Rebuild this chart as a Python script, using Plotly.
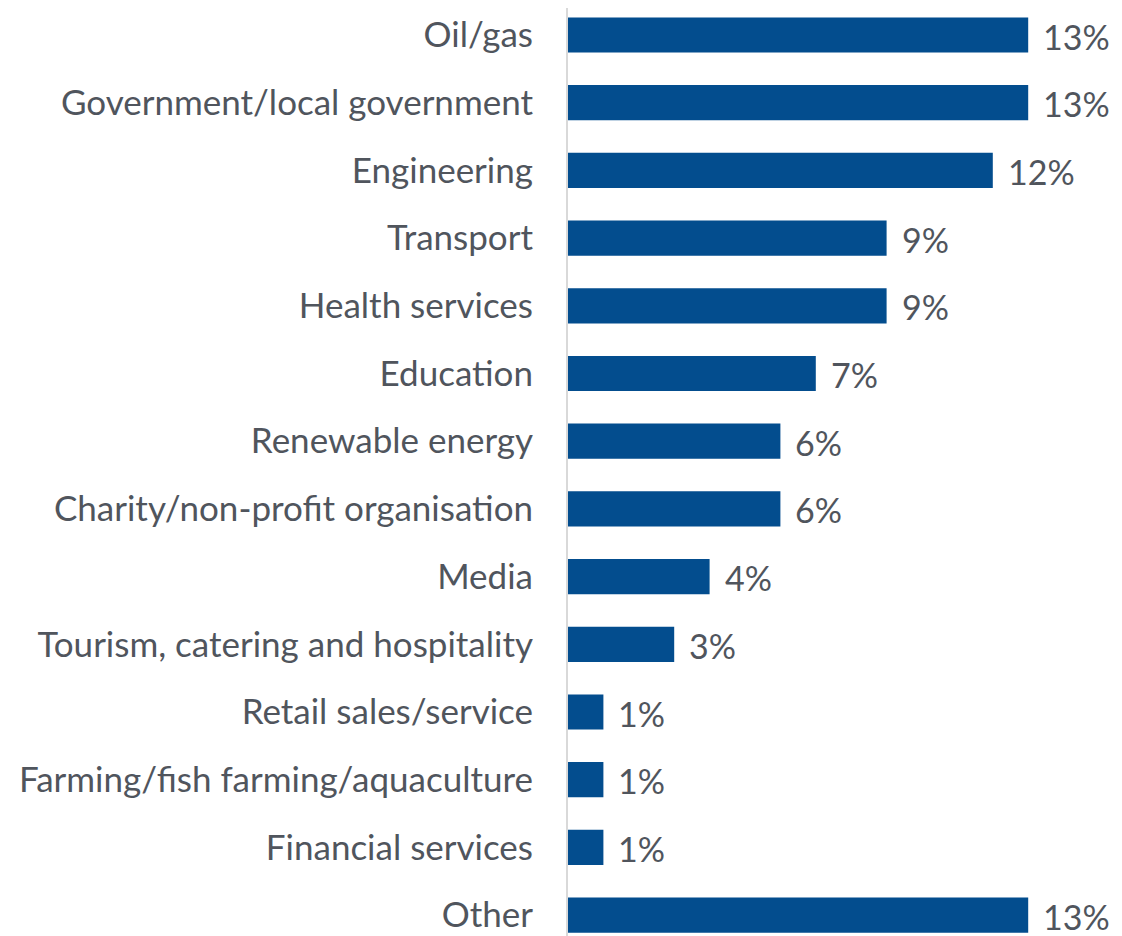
import plotly.graph_objects as go

categories = ["Oil/gas", "Government/local government", "Engineering", "Transport",
              "Health services", "Education", "Renewable energy",
              "Charity/non-profit organisation", "Media",
              "Tourism, catering and hospitality", "Retail sales/service",
              "Farming/fish farming/aquaculture", "Financial services", "Other"]
values = [13, 13, 12, 9, 9, 7, 6, 6, 4, 3, 1, 1, 1, 13]
labels = [f"{v}%" for v in values]

FONT = "Lato"
TEXT = "#50555d"
SIZE = 35

fig = go.Figure(go.Bar(
    x=values, y=categories, orientation="h",
    marker=dict(color="#034d8e", line=dict(width=0)),
    width=0.52,
    cliponaxis=False,
))
for v, c, t in zip(values, categories, labels):
    fig.add_annotation(x=v, y=c, text=t, showarrow=False, xanchor="left",
                       xshift=13, yshift=-1,
                       font=dict(family=FONT, size=34, color=TEXT))
fig.update_layout(
    width=1122, height=936,
    margin=dict(l=560, r=31, t=0, b=0),
    paper_bgcolor="white", plot_bgcolor="white",
    showlegend=False,
    font=dict(family=FONT, size=SIZE, color=TEXT),
    xaxis=dict(range=[0, 15], visible=False, showgrid=False, zeroline=False),
    yaxis=dict(range=[13.427, -0.399], showline=True, linecolor="#d9d9d9", linewidth=2,
               ticks="", ticklabelstandoff=26, showgrid=False,
               tickfont=dict(family=FONT, size=SIZE, color=TEXT)),
)
fig.write_html("out.html")
